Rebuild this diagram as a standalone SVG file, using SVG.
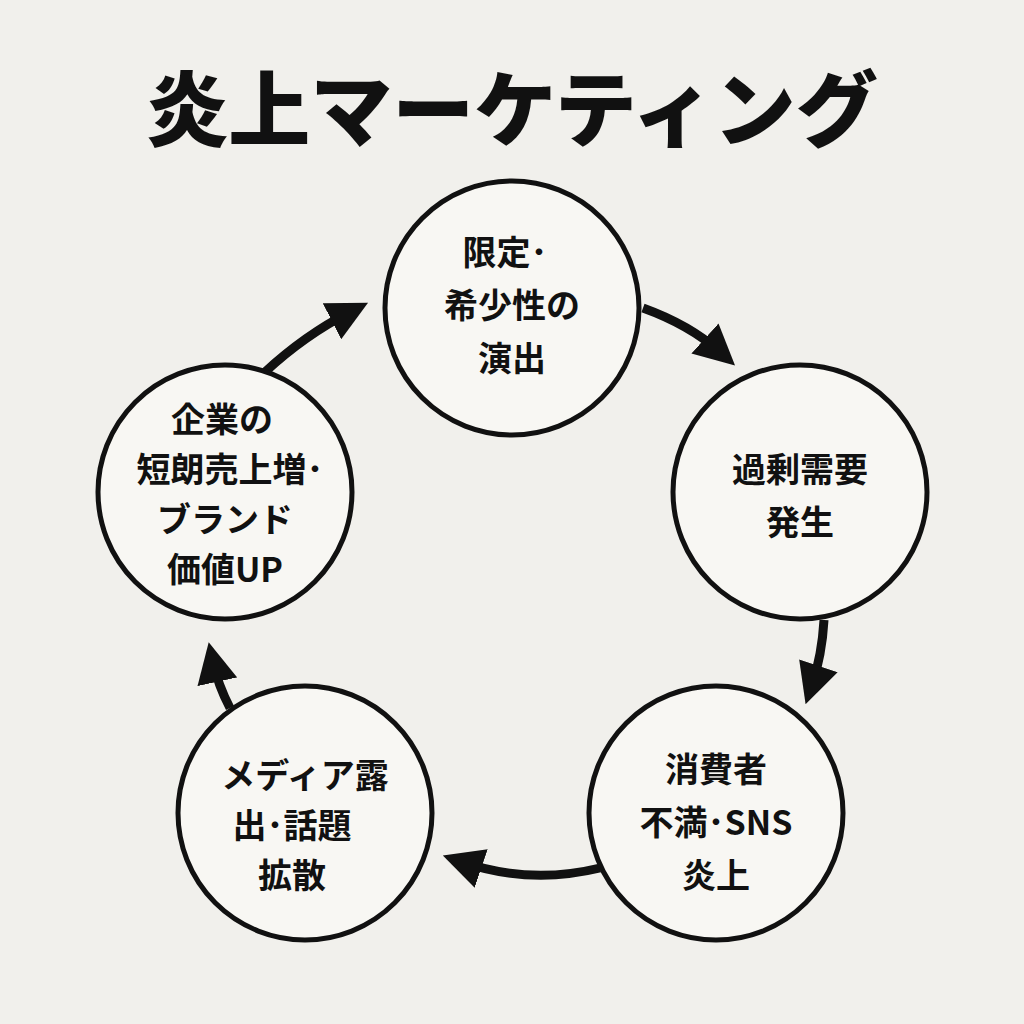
<svg xmlns="http://www.w3.org/2000/svg" width="1024" height="1024" viewBox="0 0 1024 1024">
<style>
.n{fill:#f8f7f3;stroke:#111;stroke-width:5}
.t{font-family:"Noto Sans CJK JP","Noto Sans",sans-serif;font-weight:bold;font-size:34px;fill:#111;text-anchor:middle}
.c{fill:none;stroke:#111;stroke-width:9}
</style>
<defs><marker id="a" viewBox="0 0 10 10" refX="5" refY="5" markerWidth="4.5" markerHeight="4.5" orient="auto" markerUnits="strokeWidth"><path d="M0,0L10,5L0,10z" fill="#111"/></marker></defs>
<rect width="1024" height="1024" fill="#f1f0ec"/>
<text x="512" y="140" style="font-family:'Noto Sans CJK JP',sans-serif;font-weight:900;font-size:82px;fill:#111;text-anchor:middle">炎上マーケティング</text>
<g id="connectors">
<path class="c" d="M643,308 Q690,325 720,352" marker-end="url(#a)"/>
<path class="c" d="M824,620 Q822,655 812,685" marker-end="url(#a)"/>
<path class="c" d="M600,868 Q530,885 462,862" marker-end="url(#a)"/>
<path class="c" d="M230,708 Q218,685 213,662" marker-end="url(#a)"/>
<path class="c" d="M265,372 Q305,335 350,312" marker-end="url(#a)"/>
</g>
<g id="n1"><circle class="n" cx="512" cy="308" r="127"/><text class="t" x="505" y="265">限定･</text><text class="t" x="512" y="318">希少性の</text><text class="t" x="512" y="371">演出</text></g>
<g id="n2"><circle class="n" cx="800" cy="492" r="127"/><text class="t" x="800" y="482">過剰需要</text><text class="t" x="800" y="535">発生</text></g>
<g id="n3"><circle class="n" cx="716" cy="813" r="127"/><text class="t" x="716" y="782">消費者</text><text class="t" x="716" y="835">不満･SNS</text><text class="t" x="716" y="888">炎上</text></g>
<g id="n4"><circle class="n" cx="305" cy="813" r="127"/><text class="t" x="305" y="788">メディア露</text><text class="t" x="292" y="838">出･話題</text><text class="t" x="292" y="888">拡散</text></g>
<g id="n5"><circle class="n" cx="225" cy="492" r="127"/><text class="t" x="222" y="432">企業の</text><text class="t" x="230" y="482">短朗売上増･</text><text class="t" x="225" y="532">ブランド</text><text class="t" x="225" y="582">価値UP</text></g>
</svg>
